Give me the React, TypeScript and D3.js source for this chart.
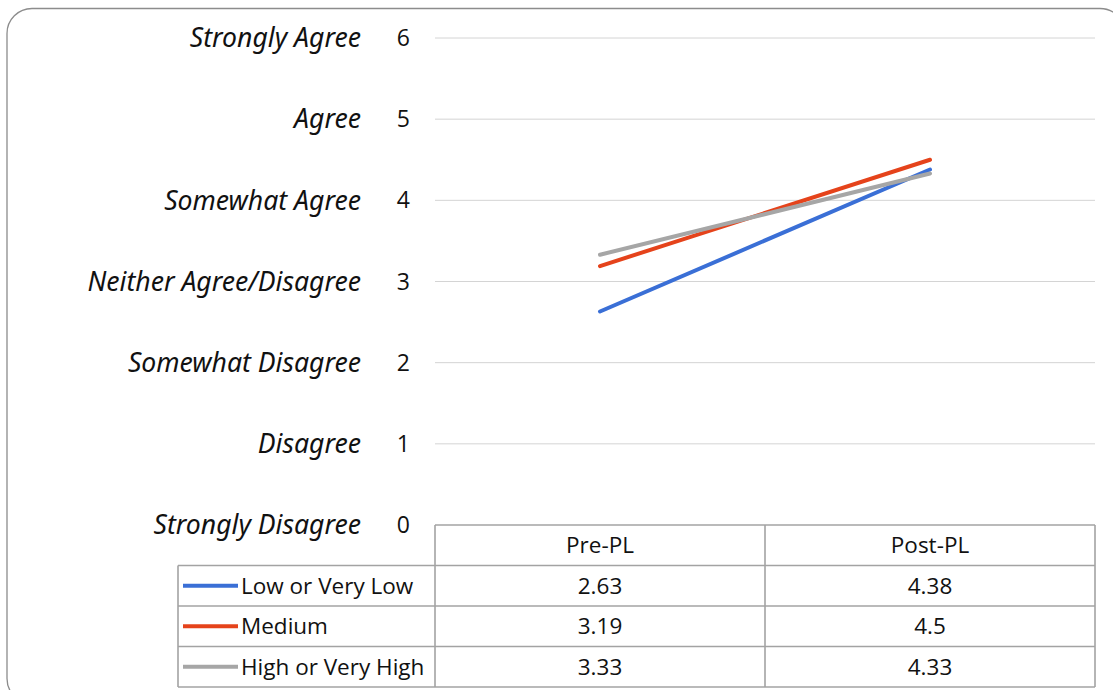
import React from "react";
import * as d3 from "d3";

const categories = ["Pre-PL", "Post-PL"];
const seriesNames = ["Low or Very Low", "Medium", "High or Very High"];
const lowValues = [2.63, 4.38];
const mediumValues = [3.19, 4.5];
const highValues = [3.33, 4.33];
const seriesColors = ["#3a6fd6", "#e5431b", "#a6a6a6"];
const tickValues = [0, 1, 2, 3, 4, 5, 6];
const tickLabels = [
  "Strongly Disagree",
  "Disagree",
  "Somewhat Disagree",
  "Neither Agree/Disagree",
  "Somewhat Agree",
  "Agree",
  "Strongly Agree",
];

const W = 1113;
const H = 690;
const plotLeft = 435;
const plotRight = 1095;
const plotTop = 38;
const plotBottom = 525;
const legendLeft = 178;
const rowH = 40.5;

export default function App() {
  const series = [lowValues, mediumValues, highValues];
  const y = d3.scaleLinear().domain([0, 6]).range([plotBottom, plotTop]);
  const x = d3.scaleBand().domain(categories).range([plotLeft, plotRight]);
  const line = d3
    .line<number>()
    .x((_, i) => (x(categories[i]) as number) + x.bandwidth() / 2)
    .y((d) => y(d));

  const tableTop = plotBottom;
  const rowY = (r: number) => tableTop + r * rowH;
  const tableBottom = rowY(4);
  const gridColor = "#d4d4d4";
  const tableColor = "#a3a3a3";
  const txt = "'Noto Sans', 'DejaVu Sans', sans-serif";
  const tbl = "'Open Sans', 'Noto Sans', sans-serif";

  return (
    <svg
      width={W}
      height={H}
      style={{ position: "absolute", left: 0, top: 0, background: "#fff" }}
    >
      <rect
        x={7}
        y={8.5}
        width={1118}
        height={695}
        rx={25}
        ry={25}
        fill="#fff"
        stroke="#8c8c8c"
        strokeWidth={1.3}
      />

      {/* gridlines */}
      {tickValues
        .filter((t) => t > 0)
        .map((t) => (
          <line
            key={t}
            x1={plotLeft}
            x2={plotRight}
            y1={y(t)}
            y2={y(t)}
            stroke={gridColor}
            strokeWidth={1}
          />
        ))}

      {/* axis numbers and category labels */}
      {tickValues.map((t, i) => (
        <g key={"t" + t}>
          <text
            x={410}
            y={y(t)}
            dy="0.35em"
            textAnchor="end"
            fontFamily={tbl}
            fontSize={23}
            fill="#111"
          >
            {t}
          </text>
          <text
            x={361}
            y={y(t)}
            dy="0.35em"
            textAnchor="end"
            fontFamily={txt}
            fontStyle="italic"
            fontSize={26.6}
            fill="#111"
          >
            {tickLabels[i]}
          </text>
        </g>
      ))}

      {/* series lines */}
      {series.map((vals, i) => (
        <path
          key={"s" + i}
          d={line(vals) as string}
          fill="none"
          stroke={seriesColors[i]}
          strokeWidth={4}
          strokeLinecap="round"
        />
      ))}

      {/* data table */}
      <g fill="none" stroke={tableColor} strokeWidth={1.6}>
        <line x1={plotLeft} x2={plotRight} y1={rowY(0)} y2={rowY(0)} />
        {[1, 2, 3, 4].map((r) => (
          <line key={"r" + r} x1={legendLeft} x2={plotRight} y1={rowY(r)} y2={rowY(r)} />
        ))}
        <line x1={legendLeft} x2={legendLeft} y1={rowY(1)} y2={tableBottom} />
        <line x1={plotLeft} x2={plotLeft} y1={rowY(0)} y2={tableBottom} />
        <line
          x1={plotLeft + x.bandwidth()}
          x2={plotLeft + x.bandwidth()}
          y1={rowY(0)}
          y2={tableBottom}
        />
        <line x1={plotRight} x2={plotRight} y1={rowY(0)} y2={tableBottom} />
      </g>

      {categories.map((c) => (
        <text
          key={"c" + c}
          x={(x(c) as number) + x.bandwidth() / 2}
          y={rowY(0) + rowH / 2}
          dy="0.35em"
          textAnchor="middle"
          fontFamily={tbl}
          fontSize={22.5}
          fill="#111"
        >
          {c}
        </text>
      ))}

      {series.map((vals, i) => (
        <g key={"row" + i}>
          <line
            x1={183}
            x2={238}
            y1={rowY(i + 1) + rowH / 2}
            y2={rowY(i + 1) + rowH / 2}
            stroke={seriesColors[i]}
            strokeWidth={4}
          />
          <text
            x={241}
            y={rowY(i + 1) + rowH / 2}
            dy="0.35em"
            fontFamily={tbl}
            fontSize={22.5}
            fill="#111"
          >
            {seriesNames[i]}
          </text>
          {vals.map((v, j) => (
            <text
              key={"v" + j}
              x={(x(categories[j]) as number) + x.bandwidth() / 2}
              y={rowY(i + 1) + rowH / 2}
              dy="0.35em"
              textAnchor="middle"
              fontFamily={tbl}
              fontSize={22.5}
              fill="#111"
            >
              {v}
            </text>
          ))}
        </g>
      ))}
    </svg>
  );
}
